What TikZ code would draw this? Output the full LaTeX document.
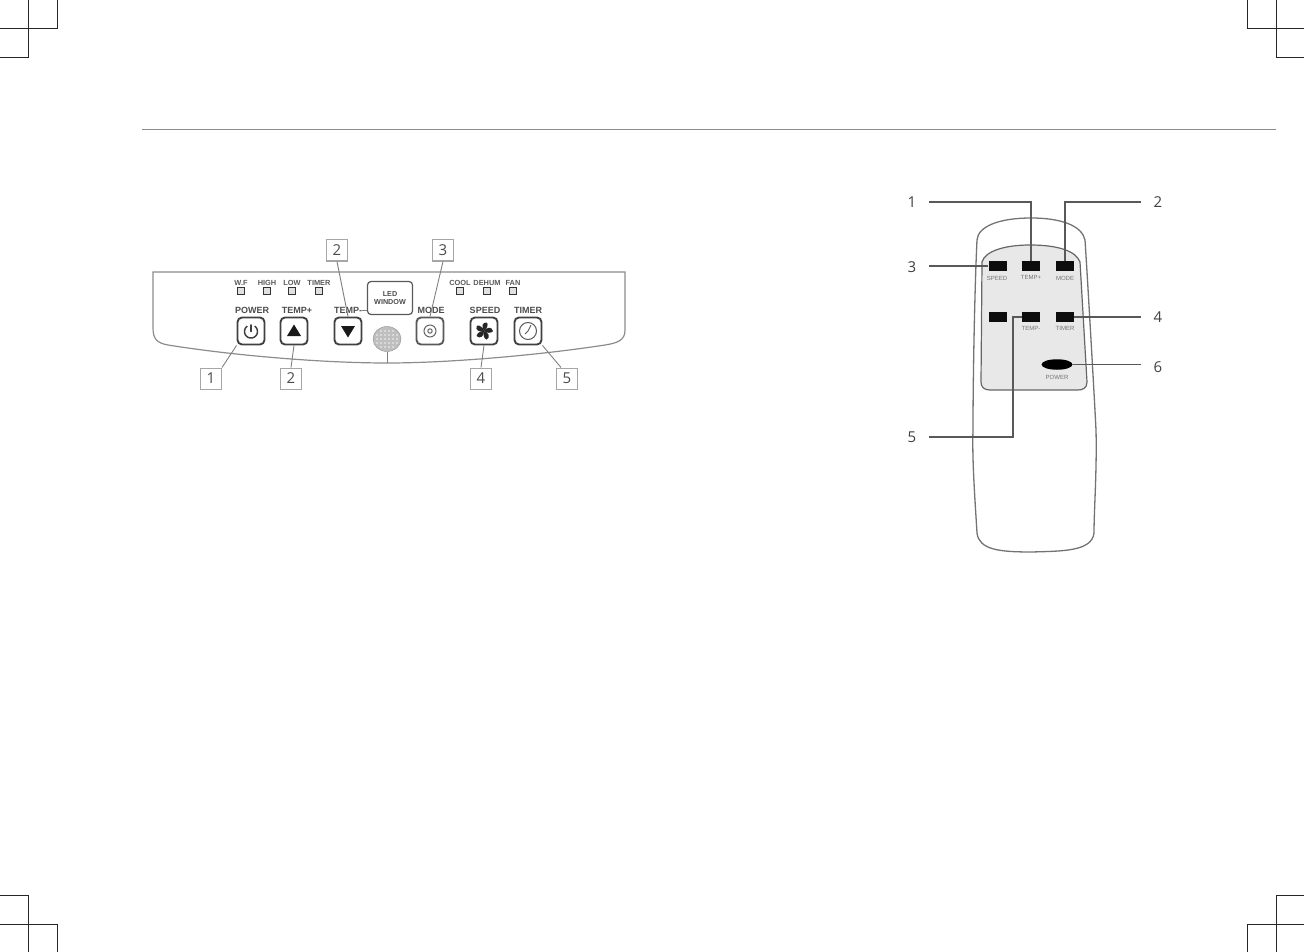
\documentclass[tikz,border=0pt]{standalone}
\usepackage{fontspec}
\usetikzlibrary{shapes.geometric}
\setmainfont{Open Sans}
\newfontfamily\capfont{Liberation Sans}
\tikzset{
 crop/.style={draw=black!85,line width=0.8pt},
 panel/.style={draw=black!45,line width=1.2pt},
 lead/.style={draw=black!50,line width=0.9pt},
 remlead/.style={draw=black!65,line width=1.3pt},
 numbox/.style={draw=black!35,fill=white,line width=1pt,minimum width=21pt,minimum height=21pt,inner sep=0pt,font=\fontsize{15}{15}\selectfont,text=black!70},
 panelbtn/.style={draw=black!75,fill=white,line width=1.9pt,rounded corners=4.5pt,minimum width=27pt,minimum height=27pt,inner sep=0pt},
 lamp/.style={draw=black!80,fill=black!12,line width=1.4pt,minimum width=6.5pt,minimum height=6.5pt,inner sep=0pt},
 ledlabel/.style={font=\capfont\fontsize{7.4}{8}\selectfont\bfseries,text=black!65,inner sep=0pt},
 btnlabel/.style={font=\capfont\fontsize{9}{10}\selectfont\bfseries,text=black!70,inner sep=0pt},
 rembtn/.style={fill=black!95,minimum width=18pt,minimum height=10pt,inner sep=0pt},
 remlabel/.style={font=\capfont\fontsize{6}{7}\selectfont,text=black!55,inner sep=0pt},
 remnum/.style={font=\fontsize{15}{15}\selectfont,text=black!75,inner sep=0pt},
}
\begin{document}
\begin{tikzpicture}[x=1pt,y=-1pt]
\useasboundingbox (0,0) rectangle (1304,952);
% crop marks
\draw[crop] (57,0)--(57,28)--(0,28);
\draw[crop] (28,0)--(28,57)--(0,57);
\draw[crop] (1247,0)--(1247,28)--(1304,28);
\draw[crop] (1276,0)--(1276,57)--(1304,57);
\draw[crop] (0,895)--(28,895)--(28,952);
\draw[crop] (0,924)--(57,924)--(57,952);
\draw[crop] (1304,895)--(1276,895)--(1276,952);
\draw[crop] (1304,924)--(1247,924)--(1247,952);
\draw[draw=black!45,line width=1pt] (142,130)--(1276,130);
% panel
\draw[panel] (153,272)--(625,272)--(625,330) .. controls (625,340) and (618,343) .. (605,345) .. controls (540,355) and (450,363) .. (387,363) .. controls (320,363) and (230,355) .. (168,345) .. controls (157,343) and (153,339) .. (153,328) -- cycle;
% LEDs
\foreach \n/\x/\t in {a/241/W.F,b/267/HIGH,c/292/LOW,d/319/TIMER,e/460/COOL,f/487/DEHUM,g/513/FAN}{
 \node[lamp] (lamp\n) at (\x,291) {};
 \node[ledlabel] (led\n) at (\x,283) {\t};
}
% LED window
\node[draw=black!65,line width=1.2pt,rounded corners=3.5pt,minimum width=45pt,minimum height=33pt,inner sep=0pt,align=center,font=\capfont\fontsize{7.2}{7.6}\selectfont\bfseries,text=black!70,fill=white] (win) at (390,298) {LED\\WINDOW};
% sensor
\node[ellipse,draw=black!45,fill=black!25,minimum width=28pt,minimum height=25pt,inner sep=0pt] (sensor) at (387,339) {};
\foreach \dx in {-9,-5,-1,3,7,11}{\foreach \dy in {-8,-4,0,4,8}{
 \pgfmathparse{(\dx-1)*(\dx-1)/144+\dy*\dy/90<1?1:0}
 \ifnum\pgfmathresult=1 \fill[white,opacity=.55] (386+\dx,339+\dy) circle (1.1pt);\fi
}}
% number boxes
\node[numbox] (n1) at (211,378.5) {1};
\node[numbox] (n2a) at (291,378.5) {2};
\node[numbox] (n2b) at (337,250.5) {2};
\node[numbox] (n3) at (443,250.5) {3};
\node[numbox] (n4) at (481,378.5) {4};
\node[numbox] (n5) at (567,378.5) {5};
\node[panelbtn] (power) at (251,331) {};
\node[panelbtn] (up) at (294,331) {};
\node[panelbtn] (down) at (348,331) {};
\node[panelbtn,draw=black!65] (mode) at (430,331) {};
\node[panelbtn] (speed) at (484,331) {};
\node[panelbtn] (timer) at (528,331) {};
\node[btnlabel] (lpower) at (252,310) {POWER};
\node[btnlabel] (lup) at (297,310) {TEMP+};
\node[btnlabel] (ldown) at (348,310) {TEMP-};
\node[btnlabel] (lmode) at (431,310) {MODE};
\node[btnlabel] (lspeed) at (485,310) {SPEED};
\node[btnlabel] (ltimer) at (528,310) {TIMER};
\draw[lead] (n1.north east)--(power.south west);
\draw[lead] (n2a.north)--(up.south);
\draw[lead] (n2b.south)--(down.north);
\draw[lead] (n3.south)--(mode.north);
\draw[lead] (n4.north)--(speed.south);
\draw[lead] ([xshift=-6pt]n5.north)--(timer.south east);
\draw[lead] (sensor.south)--(sensor.south |- 0,363);
\draw[lead] (ldown.east)--(ldown.east -| win.west);
% glyphs
\draw[black!75,line width=1.6pt,line cap=round] (251,325)--(251,331.5);
\draw[black!75,line width=1.5pt] plot[smooth,domain=35:325,samples=30] ({251+6.5*sin(\x)},{331.5-6.5*cos(\x)});
\fill[black!90] (294,324.5)--(301,336)--(287,336)--cycle;
\fill[black!90] (348,337.5)--(341,326)--(355,326)--cycle;
\draw[black!60,line width=1pt] (430,331) circle (6pt) circle (2.2pt);
\foreach \a in {0,72,144,216,288}{
 \fill[black!85,rotate around={\a:(484,331)}] (484,331) .. controls (481,327) and (482,322) .. (487,322.5) .. controls (488.5,325) and (487,329) .. (484,331);
}
\draw[black!65,line width=1pt] (528,331) circle (8.5pt);
\draw[black!65,line width=0.9pt] (528,331)--(531,325) (528,331)--(525,334);
% remote
\draw[draw=black!55,line width=1.3pt] (977,240) .. controls (978,226) and (1000,218) .. (1031,218) .. controls (1062,218) and (1082,226) .. (1085,240) .. controls (1087,270) and (1094,390) .. (1096,430) .. controls (1097,470) and (1094,510) .. (1094,533) .. controls (1092,552) and (1060,551) .. (1032,552) .. controls (1000,552) and (979,550) .. (977,533) .. controls (975,500) and (972,460) .. (973,430) .. controls (973,370) and (975,280) .. (977,240) -- cycle;
\node[remnum] (r1) at (912,202) {1};
\node[remnum] (r2) at (1158,202) {2};
\node[remnum] (r3) at (912,267) {3};
\node[remnum] (r4) at (1158,317) {4};
\node[remnum] (r5) at (912,437) {5};
\node[remnum] (r6) at (1158,367) {6};
\draw[draw=black!60,fill=black!9,line width=1.2pt] (982,262) .. controls (985,251) and (1005,245) .. (1030,245) .. controls (1058,245) and (1076,251) .. (1080,262) -- (1087,382) .. controls (1087,388) and (1083,390) .. (1078,390) -- (990,390) .. controls (984,390) and (981,387) .. (981,382) -- cycle;
\node[rembtn] (b1) at (997.5,266) {};
\node[rembtn] (b2) at (1031,266) {};
\node[rembtn] (b3) at (1065,266) {};
\node[rembtn] (b4) at (997.5,317) {};
\node[rembtn] (b5) at (1031,317) {};
\node[rembtn] (b6) at (1065,317) {};
\node[ellipse,fill=black,minimum width=31pt,minimum height=10.5pt,inner sep=0pt] (b7) at (1057,364.5) {};
\node[remlabel] (t1) at (997,278) {SPEED};
\node[remlabel] (t2) at (1031,277) {TEMP+};
\node[remlabel] (t3) at (1065,278) {MODE};
\node[remlabel] (t5) at (1031,328) {TEMP-};
\node[remlabel] (t6) at (1065,328) {TIMER};
\node[remlabel] (t7) at (1057,377) {POWER};
\coordinate (s1) at (929,202);
\coordinate (s2) at (1141,202);
\coordinate (s3) at (929,266);
\coordinate (s4) at (1141,317);
\coordinate (s5) at (929,437);
\coordinate (s6) at (1141,364.5);
\coordinate (c5) at (1013,437);
\draw[remlead] (s1)-|(b2.north);
\draw[remlead] (s2)-|(b3.north);
\draw[remlead] (s3)--(b1.west);
\draw[remlead] (s4)--(b6.east);
\draw[remlead] (s6)--(b7.east);
\draw[remlead] (s5)--(c5)|-(b5.west);
\end{tikzpicture}
\end{document}
